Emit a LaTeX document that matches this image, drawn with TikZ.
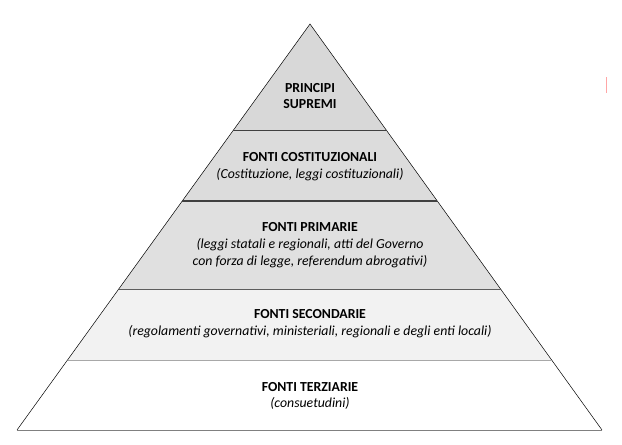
\documentclass[tikz,border=0pt]{standalone}
\usepackage{fontspec}
\setmainfont{Carlito}
\usetikzlibrary{calc}

\definecolor{layerA}{HTML}{D8D8D8}
\definecolor{layerB}{HTML}{DCDCDC}
\definecolor{layerC}{HTML}{E0E0E0}
\definecolor{layerD}{HTML}{F2F2F2}
\definecolor{lineDark}{HTML}{404040}
\definecolor{lineGray}{HTML}{A8A8A8}

\tikzset{
  title/.style={font=\fontsize{13.8}{16.8}\selectfont, align=center, inner sep=0pt},
  cut/.style={line width=1.2pt, draw=lineDark}
}

\begin{document}
\begin{tikzpicture}[x=1pt,y=-1pt]
\useasboundingbox (0,0) rectangle (622,445);
\coordinate (apex) at (310,24);
\coordinate (bl) at (17,430);
\coordinate (br) at (602,430);
% edge points of the cuts
\foreach \n/\t in {1/0.2623,2/0.4360,3/0.6535,4/0.8276}{
  \coordinate (l\n) at ($(apex)!\t!(bl)$);
  \coordinate (r\n) at ($(apex)!\t!(br)$);
}
% layers
\fill[layerA] (apex) -- (r1) -- (l1) -- cycle;
\fill[layerB] (l1) -- (r1) -- (r2) -- (l2) -- cycle;
\fill[layerC] (l2) -- (r2) -- (r3) -- (l3) -- cycle;
\fill[layerD] (l3) -- (r3) -- (r4) -- (l4) -- cycle;
\draw[line width=0.5pt] (bl) -- (apex) -- (br);
\draw[line width=1pt, draw=gray] (bl) -- (br);
\draw[cut] (l1) -- (r1);
\draw[cut] (l2) -- (r2);
\draw[cut, draw=lineDark!85] (l3) -- (r3);
\draw[line width=1pt, draw=lineGray] (l4) -- (r4);
% texts
\node[title] (principi) at (310,96) {\textbf{PRINCIPI}\\\textbf{SUPREMI}};
\node[title] (costituz) at (310,167) {\textbf{FONTI COSTITUZIONALI}\\\textit{(Costituzione, leggi costituzionali)}};
\node[title] (primarie) at (310,245) {\textbf{FONTI PRIMARIE}\\\textit{(leggi statali e regionali, atti del Governo}\\\textit{con forza di legge, referendum abrogativi)}};
\node[title] (secondarie) at (310,324) {\textbf{FONTI SECONDARIE}\\\textit{(regolamenti governativi, ministeriali, regionali e degli enti locali)}};
\node[title] (terziarie) at (310,396) {\textbf{FONTI TERZIARIE}\\\textit{(consuetudini)}};
% stray mark at the right
\draw[line width=0.8pt, draw=red!35] (606,77) -- (606,93);
\end{tikzpicture}
\end{document}
